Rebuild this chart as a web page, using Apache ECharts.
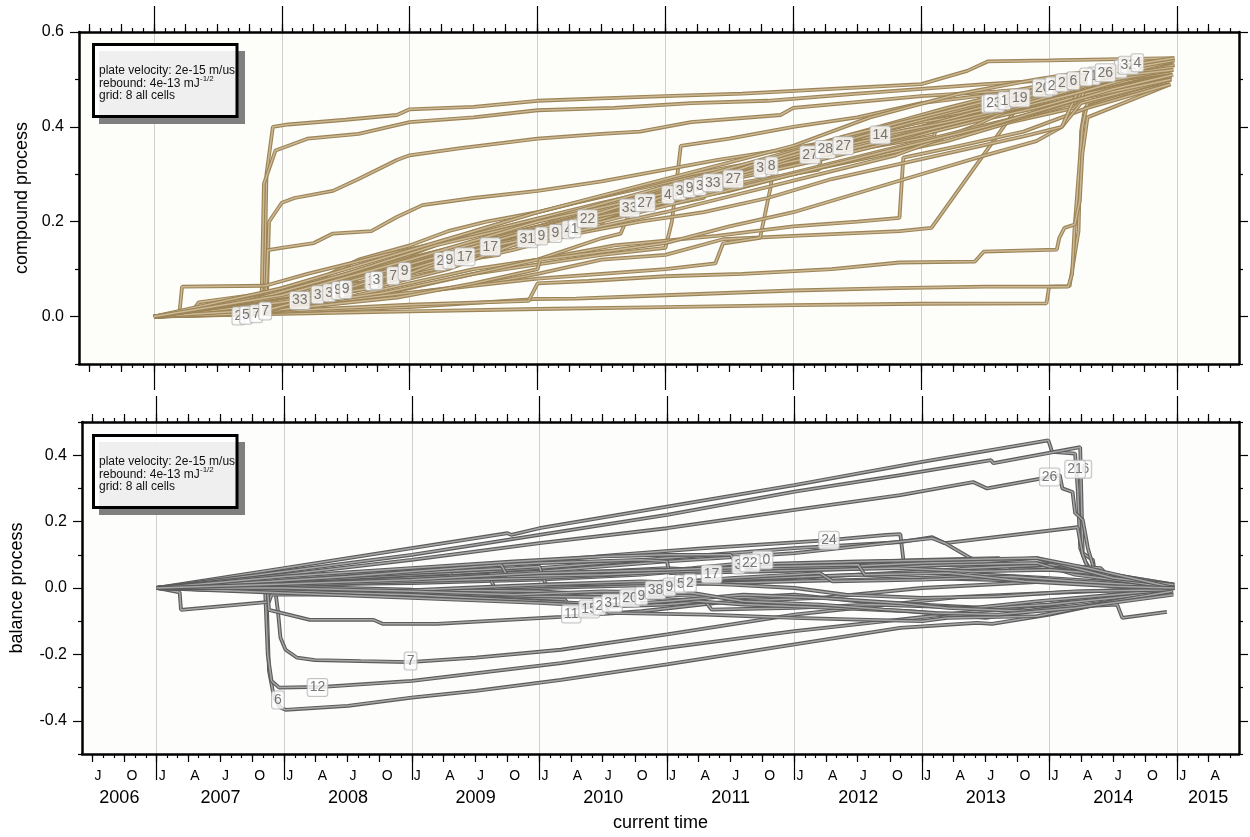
<!DOCTYPE html>
<html>
<head>
<meta charset="utf-8">
<script src="https://cdn.jsdelivr.net/npm/echarts@6/dist/echarts.min.js"></script>
<style>
  html, body { margin: 0; padding: 0; background: #fff; }
  #chart { width: 1250px; height: 837px; }
</style>
</head>
<body>
<div id="chart"></div>
<script>
// axis range in decimal years
const X_MIN = 2006.414
const X_MAX = 2015.485
const YEARS = [2006, 2007, 2008, 2009, 2010, 2011, 2012, 2013, 2014, 2015]
const MONTH_DAYS = [0, 31, 59, 90, 120, 151, 181, 212, 243, 273, 304, 334]
const QUARTER_LETTERS = { 0: "J", 90: "A", 181: "J", 273: "O" }
const YEAR_LABEL_POS = [2006.707, 2007.5, 2008.5, 2009.5, 2010.5, 2011.5, 2012.5, 2013.5, 2014.5, 2015.243]

const CP_MAJOR = [0, 0.2, 0.4, 0.6]
const CP_MINOR = [-0.1, 0.1, 0.3, 0.5]
const BP_MAJOR = [-0.4, -0.2, 0, 0.2, 0.4]
const BP_MINOR = [-0.5, -0.3, -0.1, 0.1, 0.3, 0.5]

// ---- compound process (top panel) ----
const cpA1 = [[2007,0],[2007.5,0.004],[2007.86,0.008],[2007.88,0.3],[2007.93,0.4],[2008.05,0.405],[2008.5,0.415],[2008.9,0.425],[2009,0.437],[2009.5,0.442],[2010,0.455],[2010.5,0.46],[2011,0.465],[2011.6,0.47],[2012.3,0.48],[2013,0.49],[2013.36,0.518],[2013.52,0.538],[2014,0.54],[2014.98,0.545]]
const cpA2 = [[2007,0],[2007.6,0.006],[2007.84,0.01],[2007.86,0.28],[2007.95,0.35],[2008.1,0.365],[2008.2,0.375],[2008.6,0.385],[2009,0.41],[2009.5,0.42],[2010,0.435],[2010.6,0.44],[2011.2,0.45],[2011.8,0.455],[2012.5,0.47],[2013,0.48],[2013.5,0.49],[2014.1,0.5],[2014.5,0.52],[2014.96,0.535]]
const cpA3 = [[2007,0],[2007.88,0.01],[2007.9,0.2],[2008,0.24],[2008.1,0.25],[2008.4,0.265],[2008.6,0.29],[2008.9,0.33],[2009,0.34],[2009.4,0.355],[2010,0.375],[2010.5,0.385],[2010.8,0.39],[2011.2,0.41],[2011.9,0.425],[2012,0.44],[2012.6,0.455],[2013,0.465],[2013.6,0.475],[2014.3,0.49],[2014.95,0.52]]
const cpA4 = [[2007,0],[2007.87,0.006],[2007.89,0.14],[2008,0.145],[2008.25,0.155],[2008.4,0.175],[2008.7,0.18],[2008.9,0.21],[2009.1,0.235],[2009.5,0.25],[2010,0.265],[2010.5,0.285],[2011,0.31],[2011.4,0.33],[2012,0.355],[2012.5,0.38],[2013,0.41],[2013.5,0.43],[2014,0.46],[2014.5,0.49],[2014.95,0.515]]
const cp33 = [[2007,0],[2007.4,0.01],[2007.9,0.02],[2008.14,0.034],[2008.6,0.055],[2008.62,0.07],[2009,0.09],[2009.5,0.13],[2010,0.175],[2010.3,0.19],[2010.72,0.229],[2011.37,0.282],[2011.6,0.295],[2012,0.325],[2012.5,0.36],[2013,0.39],[2013.5,0.42],[2014,0.46],[2014.5,0.49],[2014.97,0.52]]
const cp27 = [[2007,0],[2007.6,0.008],[2008,0.03],[2008.5,0.06],[2009,0.1],[2009.4,0.13],[2009.9,0.17],[2010.4,0.2],[2010.84,0.24],[2011.2,0.265],[2011.53,0.29],[2011.8,0.31],[2011.82,0.325],[2012.13,0.341],[2012.39,0.36],[2012.8,0.38],[2013.3,0.41],[2013.8,0.45],[2014.2,0.47],[2014.25,0.5],[2014.98,0.53]]
const cp9 = [[2007,0],[2007.5,0.01],[2008,0.035],[2008.5,0.057],[2008.96,0.095],[2009.31,0.12],[2009.7,0.15],[2010.03,0.17],[2010.14,0.175],[2010.6,0.215],[2011.19,0.27],[2011.7,0.3],[2012.2,0.33],[2012.8,0.37],[2013.4,0.41],[2013.9,0.44],[2014.3,0.47],[2014.95,0.51]]
const cp3 = [[2007,0],[2007.7,0.02],[2008.28,0.046],[2008.74,0.076],[2009.2,0.1],[2009.6,0.14],[2010.2,0.19],[2010.7,0.23],[2011.11,0.265],[2011.27,0.274],[2011.74,0.312],[2012.3,0.345],[2012.9,0.38],[2013.5,0.43],[2014.1,0.47],[2014.5,0.5],[2014.96,0.525]]
const cp17 = [[2007,0],[2007.3,0.01],[2007.35,0.03],[2007.9,0.05],[2008.5,0.08],[2009,0.105],[2009.43,0.126],[2009.63,0.147],[2010,0.165],[2010.1,0.2],[2010.6,0.22],[2011,0.24],[2011.5,0.265],[2012,0.3],[2012.6,0.34],[2013.2,0.38],[2013.8,0.42],[2014.2,0.45],[2014.3,0.49],[2014.95,0.515]]
const cp7 = [[2007,0],[2007.8,0.006],[2008.3,0.04],[2008.87,0.086],[2009.3,0.11],[2009.8,0.14],[2010.3,0.175],[2010.8,0.2],[2011.3,0.22],[2011.8,0.25],[2012.3,0.29],[2012.8,0.32],[2013.3,0.35],[2013.8,0.38],[2014.1,0.4],[2014.2,0.46],[2014.29,0.505],[2014.96,0.53]]
const cp4 = [[2007,0],[2007.5,0.015],[2008,0.04],[2008.6,0.07],[2009.1,0.11],[2009.6,0.15],[2010.24,0.183],[2010.6,0.215],[2011.02,0.257],[2011.5,0.29],[2012.1,0.335],[2012.7,0.375],[2013.2,0.41],[2013.8,0.45],[2014.3,0.5],[2014.69,0.535],[2014.98,0.54]]
const cp2 = [[2007,0],[2007.6,0.005],[2008.2,0.03],[2008.8,0.07],[2009.24,0.116],[2009.8,0.15],[2010.4,0.185],[2011,0.22],[2011.6,0.26],[2012.2,0.3],[2012.8,0.34],[2013.4,0.4],[2013.8,0.45],[2014.02,0.486],[2014.1,0.493],[2014.5,0.51],[2014.97,0.525]]
const cp22 = [[2007,0],[2007.3,0.008],[2008,0.03],[2008.7,0.06],[2009.3,0.1],[2009.8,0.15],[2010.39,0.206],[2010.9,0.235],[2011.5,0.27],[2012.1,0.31],[2012.7,0.35],[2013.3,0.39],[2013.9,0.43],[2014.25,0.46],[2014.3,0.49],[2014.96,0.515]]
const cp31 = [[2007,0],[2007.9,0.015],[2008.4,0.05],[2009,0.1],[2009.5,0.14],[2009.92,0.164],[2010.5,0.2],[2011.1,0.24],[2011.7,0.28],[2012.3,0.32],[2012.9,0.36],[2013.5,0.4],[2014,0.44],[2014.5,0.48],[2014.97,0.51]]
const cp8 = [[2007,0],[2007.8,0.03],[2008.3,0.07],[2008.8,0.11],[2009.4,0.15],[2010,0.19],[2010.6,0.24],[2011.2,0.28],[2011.83,0.318],[2012.4,0.35],[2013,0.39],[2013.6,0.43],[2014.2,0.47],[2014.98,0.53]]
const cp28 = [[2007,0],[2007.2,0.01],[2007.22,0.063],[2007.87,0.065],[2008.2,0.09],[2008.8,0.13],[2009.3,0.16],[2009.9,0.2],[2010.5,0.24],[2011,0.27],[2011.6,0.31],[2012.25,0.352],[2012.8,0.385],[2013.4,0.43],[2013.9,0.46],[2014.4,0.5],[2014.98,0.54]]
const cp14 = [[2007,0],[2008,0.05],[2008.5,0.09],[2009,0.13],[2009.5,0.18],[2010,0.22],[2010.6,0.26],[2011.2,0.3],[2011.8,0.33],[2012.2,0.36],[2012.68,0.383],[2013.2,0.41],[2013.7,0.44],[2014.2,0.48],[2014.97,0.53]]
const cp23 = [[2007,0],[2007.5,0.02],[2008.3,0.06],[2009,0.12],[2009.6,0.16],[2010.3,0.21],[2011,0.26],[2011.7,0.31],[2012.3,0.36],[2012.9,0.41],[2013.57,0.45],[2014.1,0.48],[2014.97,0.52]]
const cp19 = [[2007,0],[2008,0.04],[2008.7,0.09],[2009.4,0.14],[2010,0.185],[2010.7,0.24],[2011.4,0.3],[2012,0.34],[2012.7,0.4],[2013.3,0.43],[2013.77,0.461],[2014.3,0.49],[2014.96,0.52]]
const cp20 = [[2007,0],[2008.2,0.05],[2009,0.11],[2009.8,0.17],[2010.5,0.22],[2011.2,0.28],[2012,0.34],[2012.8,0.4],[2013.5,0.45],[2013.95,0.482],[2014.4,0.505],[2014.97,0.525]]
const cp26 = [[2007,0],[2007.7,0.03],[2008.5,0.09],[2009.2,0.15],[2010,0.2],[2010.8,0.26],[2011.6,0.32],[2012.4,0.38],[2013.2,0.44],[2013.8,0.48],[2014.44,0.514],[2014.97,0.54]]
const cp32 = [[2007,0],[2008,0.06],[2009,0.14],[2010,0.22],[2011,0.29],[2012,0.36],[2012.6,0.42],[2013.3,0.47],[2013.9,0.5],[2014.62,0.53],[2014.98,0.545]]
const cp6 = [[2007,0],[2008,0.045],[2009,0.12],[2010,0.2],[2011,0.26],[2011.8,0.33],[2012.4,0.38],[2013,0.42],[2013.6,0.46],[2014.19,0.497],[2014.97,0.52]]
const cpX1 = [[2007,0],[2007.9,0.03],[2008,0.06],[2008.3,0.08],[2008.6,0.12],[2009,0.15],[2009.3,0.18],[2009.6,0.2],[2010,0.22],[2010.3,0.24],[2010.8,0.27],[2011.3,0.3],[2011.9,0.33],[2012.5,0.37],[2013,0.4],[2013.6,0.44],[2014.1,0.47],[2014.95,0.52]]
const cpX2 = [[2007,0],[2008,0.015],[2008.9,0.04],[2009.5,0.07],[2010,0.1],[2010.02,0.12],[2010.6,0.14],[2011,0.155],[2011.5,0.19],[2012,0.22],[2012.5,0.26],[2013,0.3],[2013.5,0.34],[2013.9,0.37],[2014.1,0.4],[2014.25,0.45],[2014.95,0.5]]
const cpX3 = [[2007,0],[2007.6,0.01],[2008.2,0.04],[2008.21,0.06],[2008.9,0.08],[2008.92,0.1],[2009.7,0.13],[2009.72,0.16],[2010.5,0.19],[2010.52,0.21],[2011.3,0.25],[2011.32,0.27],[2012.2,0.31],[2012.22,0.34],[2013.1,0.38],[2013.12,0.4],[2013.9,0.44],[2014.95,0.5]]
const cpS1 = [[2007,0],[2007.9,0.01],[2008.5,0.03],[2009,0.06],[2009.5,0.09],[2010,0.11],[2010.5,0.13],[2011,0.145],[2011.05,0.2],[2011.12,0.36],[2011.5,0.375],[2012,0.4],[2012.5,0.42],[2013,0.45],[2013.6,0.47],[2014.2,0.49],[2014.95,0.505]]
const cpS2 = [[2007,0],[2008,0.02],[2009,0.05],[2010,0.08],[2010.5,0.09],[2011,0.1],[2011.39,0.112],[2011.45,0.154],[2011.74,0.166],[2011.82,0.27],[2011.85,0.32],[2012.3,0.35],[2013,0.39],[2013.5,0.42],[2014.2,0.46],[2014.96,0.5]]
const cpS3 = [[2007,0],[2008.5,0.04],[2009.5,0.1],[2010,0.12],[2010.6,0.15],[2011.4,0.17],[2012,0.19],[2012.5,0.2],[2012.83,0.208],[2012.86,0.335],[2013.3,0.36],[2013.8,0.39],[2014.3,0.44],[2014.95,0.49]]
const cpS4 = [[2007,0],[2008,0.02],[2008.8,0.05],[2009.5,0.09],[2010,0.12],[2010.5,0.165],[2010.65,0.175],[2010.72,0.22],[2011.2,0.25],[2011.8,0.29],[2012.5,0.33],[2013.2,0.37],[2013.7,0.41],[2014.2,0.44],[2014.3,0.47],[2014.95,0.5]]
const cpJ1 = [[2007,0],[2008,0.006],[2009,0.011],[2010,0.016],[2011,0.02],[2012,0.024],[2013,0.027],[2013.98,0.028],[2014,0.063],[2014.16,0.064],[2014.2,0.13],[2014.23,0.18],[2014.25,0.39],[2014.28,0.44],[2014.6,0.47],[2014.94,0.49]]
const cpJ2 = [[2007,0],[2008,0.01],[2009,0.02],[2009.97,0.037],[2010.3,0.038],[2011,0.045],[2012,0.055],[2012.8,0.06],[2013.5,0.063],[2014.15,0.063],[2014.18,0.09],[2014.2,0.19],[2014.22,0.26],[2014.26,0.4],[2014.3,0.45],[2014.95,0.5]]
const cpJ3 = [[2007,0],[2008,0.012],[2009,0.025],[2009.93,0.033],[2010,0.07],[2010.4,0.075],[2011,0.085],[2011.6,0.09],[2012.3,0.1],[2012.83,0.114],[2013.42,0.116],[2013.49,0.137],[2014.06,0.141],[2014.08,0.166],[2014.12,0.187],[2014.2,0.194],[2014.24,0.244],[2014.26,0.343],[2014.3,0.42],[2014.95,0.49]]
const cpJ4 = [[2007,0],[2008,0.02],[2009,0.05],[2009.6,0.07],[2010,0.09],[2010.5,0.12],[2011,0.13],[2011.45,0.163],[2012,0.17],[2012.83,0.18],[2013.08,0.187],[2013.75,0.44],[2014,0.46],[2014.5,0.49],[2014.96,0.505]]

const cpTags = [
  [2007.66,0.001,"2"],[2007.72,0.003,"5"],[2007.8,0.006,"7"],[2007.87,0.012,"7"],
  [2008.14,0.034,"33"],[2008.28,0.046,"3"],[2008.37,0.05,"3"],[2008.44,0.055,"9"],[2008.5,0.057,"9"],
  [2008.7,0.074,"1"],[2008.74,0.076,"3"],[2008.87,0.086,"7"],[2008.96,0.095,"9"],
  [2009.24,0.116,"2"],[2009.31,0.12,"9"],[2009.43,0.126,"17"],[2009.63,0.147,"17"],
  [2009.92,0.164,"31"],[2010.03,0.17,"9"],[2010.14,0.175,"9"],[2010.24,0.183,"4"],[2010.29,0.185,"1"],
  [2010.39,0.206,"22"],[2010.72,0.229,"33"],[2010.84,0.24,"27"],
  [2011.02,0.257,"4"],[2011.11,0.265,"3"],[2011.19,0.27,"9"],[2011.27,0.274,"3"],[2011.37,0.282,"33"],
  [2011.53,0.29,"27"],[2011.74,0.312,"3"],[2011.83,0.318,"8"],
  [2012.13,0.341,"27"],[2012.25,0.352,"28"],[2012.39,0.36,"27"],[2012.68,0.383,"14"],
  [2013.52,0.448,"1"],[2013.57,0.45,"23"],[2013.65,0.455,"1"],[2013.77,0.461,"19"],
  [2013.95,0.482,"20"],[2014.02,0.486,"2"],[2014.1,0.493,"2"],[2014.19,0.497,"6"],
  [2014.35,0.507,"1"],[2014.29,0.505,"7"],[2014.56,0.522,"1"],[2014.44,0.514,"26"],[2014.62,0.53,"32"],[2014.69,0.535,"4"]
]

// ---- balance process (bottom panel) ----
const bpG1 = [[2007,0],[2008,0.06],[2009,0.12],[2009.75,0.165],[2009.78,0.16],[2010,0.18],[2011,0.245],[2012,0.31],[2013,0.38],[2013.99,0.445],[2014.02,0.41],[2014.2,0.405],[2014.22,0.3],[2014.24,0.12],[2014.28,0.08],[2014.33,0.05],[2014.6,0.03],[2014.98,0.005]]
const bpG2 = [[2007,0],[2008,0.05],[2009,0.1],[2010,0.16],[2011,0.22],[2012,0.29],[2012.83,0.34],[2013.54,0.385],[2013.56,0.376],[2014.24,0.424],[2014.26,0.105],[2014.34,0.084],[2014.36,0.033],[2014.98,0]]
const bpG3 = [[2007,0],[2008,0.04],[2009,0.085],[2010,0.135],[2011,0.18],[2012,0.235],[2012.83,0.28],[2013.4,0.319],[2013.51,0.3],[2014.08,0.34],[2014.1,0.3],[2014.18,0.289],[2014.2,0.226],[2014.26,0.205],[2014.3,0.12],[2014.35,0.054],[2014.5,0.024],[2014.98,0]]
const bpG4 = [[2007,0],[2008,0.02],[2009,0.04],[2009.3,0.045],[2009.32,0.06],[2010,0.08],[2010.6,0.1],[2011.3,0.12],[2012.27,0.144],[2012.72,0.16],[2012.83,0.162],[2012.86,0.065],[2013.3,0.07],[2014,0.075],[2014.3,0.04],[2014.97,0.005]]
const bpG5 = [[2007,0],[2008,0.015],[2009,0.035],[2010,0.06],[2011,0.09],[2012,0.12],[2012.83,0.138],[2013.08,0.153],[2013.18,0.135],[2014.22,0.183],[2014.26,0.1],[2014.3,0.06],[2014.5,0.03],[2014.98,0]]
const bpG6 = [[2007,0],[2009,0.03],[2010,0.05],[2011,0.08],[2012,0.105],[2013.08,0.15],[2013.18,0.135],[2013.38,0.09],[2013.5,0.075],[2014,0.07],[2014.98,0.01]]
const bp6 = [[2007,0],[2007.5,-0.005],[2007.86,-0.01],[2007.88,-0.25],[2007.92,-0.33],[2007.97,-0.36],[2008.01,-0.367],[2008.5,-0.355],[2009,-0.33],[2009.5,-0.31],[2010.17,-0.277],[2011,-0.23],[2012,-0.17],[2012.83,-0.12],[2013.43,-0.105],[2013.55,-0.108],[2014,-0.08],[2014.5,-0.04],[2014.92,0.003]]
const bp12 = [[2007,0],[2007.85,-0.01],[2007.87,-0.2],[2007.9,-0.28],[2007.96,-0.3],[2008.3,-0.298],[2009,-0.28],[2010.17,-0.226],[2011,-0.18],[2012,-0.13],[2013.3,-0.075],[2014,-0.05],[2014.5,-0.02],[2014.95,0]]
const bp7 = [[2007,0],[2007.93,-0.01],[2007.95,-0.07],[2007.97,-0.15],[2008.01,-0.186],[2008.1,-0.21],[2008.24,-0.217],[2008.6,-0.22],[2008.98,-0.223],[2009.5,-0.21],[2010.17,-0.186],[2011,-0.14],[2012,-0.08],[2013.3,-0.027],[2014,-0.015],[2014.95,0]]
const bpK1 = [[2007,0],[2007.18,-0.013],[2007.19,-0.066],[2007.88,-0.042],[2007.9,-0.02],[2008.5,-0.02],[2009.2,-0.01],[2010,0],[2011,0.01],[2012,0.02],[2013,0.03],[2014,0.02],[2014.97,0]]
const bpK2 = [[2007,0],[2007.87,-0.01],[2007.88,-0.066],[2008.2,-0.096],[2008.7,-0.096],[2008.77,-0.108],[2009.2,-0.108],[2010.17,-0.087],[2010.8,-0.07],[2011.5,-0.04],[2012.2,-0.03],[2013,0],[2014,0.02],[2014.95,0.005]]
const bpM1 = [[2007,0],[2008,0.02],[2009,0.04],[2009.3,0.045],[2009.32,0.03],[2010,0.04],[2011,0.06],[2011.2,0.055],[2012,0.07],[2013,0.085],[2013.6,0.09],[2013.7,0.06],[2014.3,0.05],[2014.5,0.03],[2014.97,0.005]]
const bpM2 = [[2007,0],[2008,0.01],[2009,0.015],[2010,0.025],[2010.8,0.04],[2011.1,0.05],[2011.15,0.02],[2012,0.03],[2013,0.05],[2013.4,0.06],[2014,0.07],[2014.4,0.06],[2014.5,0.02],[2014.98,0]]
const bpM3 = [[2007,0],[2008,0.005],[2009,-0.005],[2010,-0.01],[2010.5,-0.02],[2011,-0.02],[2011.5,-0.03],[2012,-0.02],[2012.5,-0.04],[2013,-0.05],[2013.5,-0.06],[2014,-0.05],[2014.5,-0.03],[2014.96,-0.01]]
const bpM4 = [[2007,0],[2008,0.015],[2008.5,0.02],[2009,0.03],[2009.6,0.04],[2009.65,0],[2010,0.005],[2010.5,0.01],[2011,0.02],[2011.8,0.03],[2012.5,0.04],[2013,0.03],[2013.5,0.04],[2014,0.03],[2014.6,0.015],[2014.97,0]]
const bpM5 = [[2007,0],[2008.5,-0.01],[2009.5,-0.02],[2010.2,-0.035],[2010.25,-0.06],[2011,-0.05],[2011.3,-0.04],[2011.35,-0.065],[2012,-0.06],[2012.6,-0.05],[2013.4,-0.06],[2013.9,-0.04],[2014.5,-0.02],[2014.95,-0.005]]
const bpM6 = [[2007,0],[2008,0.025],[2009,0.045],[2009.8,0.06],[2010,0.065],[2010.05,0.01],[2011,0.015],[2011.5,0.03],[2012.2,0.045],[2012.3,0.02],[2013,0.025],[2013.7,0.035],[2014.2,0.02],[2014.97,0.003]]
const bpM7 = [[2007,0],[2008,0.03],[2009,0.055],[2010,0.075],[2010.8,0.085],[2011,0.08],[2011.02,0.045],[2011.8,0.05],[2012.6,0.06],[2013.2,0.07],[2013.9,0.075],[2014.2,0.04],[2014.6,0.02],[2014.98,0]]
const bpM8 = [[2007,0],[2008,-0.005],[2009,-0.015],[2010,-0.025],[2010.9,-0.03],[2011.6,-0.05],[2012.3,-0.06],[2012.9,-0.07],[2013.5,-0.09],[2014,-0.06],[2014.53,-0.05],[2014.57,-0.09],[2014.92,-0.072]]
const bpM9 = [[2007,0],[2008,0.008],[2009,0.02],[2010,0.03],[2010.6,0.04],[2011.2,0.06],[2011.6,0.075],[2011.65,0.05],[2012.2,0.055],[2012.8,0.06],[2013.4,0.05],[2014,0.055],[2014.5,0.04],[2014.97,0.01]]
const bpM10 = [[2007,0],[2008,-0.008],[2008.8,-0.01],[2009.4,0],[2010,0.01],[2010.8,0.02],[2011.5,0.01],[2012,0],[2012.4,-0.02],[2013,-0.03],[2013.6,-0.025],[2014.2,-0.01],[2014.97,-0.005]]
const bpM11 = [[2007,0],[2007.9,0.02],[2008.5,0.035],[2009,0.05],[2009.7,0.07],[2009.75,0.035],[2010.5,0.04],[2011.1,0.05],[2011.9,0.06],[2012.4,0.065],[2013,0.075],[2013.5,0.08],[2013.9,0.09],[2014.1,0.07],[2014.5,0.03],[2014.97,0.01]]
const bpM12 = [[2007,0],[2008,-0.01],[2009,-0.02],[2009.5,-0.03],[2010,-0.04],[2010.6,-0.05],[2011,-0.04],[2011.6,-0.02],[2012.2,-0.03],[2012.8,-0.045],[2013.2,-0.06],[2013.8,-0.07],[2014.3,-0.05],[2014.97,-0.015]]
const bpM13 = [[2007,0],[2008,-0.015],[2009,-0.03],[2010,-0.045],[2010.5,-0.055],[2010.55,-0.075],[2011.3,-0.08],[2012,-0.09],[2012.5,-0.095],[2013,-0.1],[2013.2,-0.09],[2013.9,-0.085],[2014.5,-0.04],[2014.96,-0.01]]
const bpM14 = [[2007,0],[2008,0.035],[2009,0.06],[2009.8,0.08],[2010.5,0.095],[2011,0.1],[2011.5,0.1],[2011.55,0.07],[2012.5,0.08],[2013.2,0.085],[2013.9,0.09],[2014.3,0.06],[2014.98,0]]
const bpM15 = [[2007,0],[2008,0],[2009,-0.01],[2009.8,-0.02],[2010.5,-0.01],[2011.2,-0.015],[2011.6,-0.04],[2012.2,-0.05],[2012.7,-0.065],[2013.1,-0.075],[2013.6,-0.08],[2014.2,-0.06],[2014.97,-0.02]]
const bpM16 = [[2007,0],[2008,0.012],[2009,0.025],[2010,0.045],[2011,0.055],[2011.8,0.065],[2012.5,0.07],[2012.55,0.04],[2013.2,0.045],[2013.8,0.02],[2014.5,0.005],[2014.97,0]]

const bpTags = [
  [2007.95,-0.337,"6"],[2008.26,-0.3,"12"],[2008.99,-0.22,"7"],
  [2010.25,-0.078,"11"],[2010.39,-0.063,"15"],[2010.47,-0.054,"2"],[2010.57,-0.045,"31"],
  [2010.71,-0.03,"20"],[2010.8,-0.024,"9"],[2010.91,-0.006,"38"],[2011.02,0.003,"9"],
  [2011.11,0.012,"5"],[2011.18,0.015,"2"],[2011.35,0.042,"17"],
  [2011.56,0.069,"3"],[2011.75,0.084,"10"],[2011.65,0.075,"22"],[2012.27,0.144,"24"],
  [2014.0,0.334,"26"],[2014.28,0.358,"6"],[2014.2,0.358,"21"]
]

const FONT = "'Liberation Sans', Arial, Helvetica, sans-serif"

// tick positions (axis structure only)
const monthTicks = []
const quarterTicks = []
YEARS.forEach(y => {
  MONTH_DAYS.forEach((d, i) => {
    const v = y + d / 365
    if (v >= X_MIN && v <= X_MAX) {
      monthTicks.push(v)
      if (i % 3 === 0) quarterTicks.push(v)
    }
  })
})
const yearTicks = YEARS.filter(y => y >= X_MIN && y <= X_MAX)

function xAx(grid, pos, ticks, len, extra) {
  return Object.assign({
    type: "value", gridIndex: grid, position: pos, min: X_MIN, max: X_MAX,
    axisLine: { show: false, onZero: false },
    axisTick: { show: true, inside: false, customValues: ticks, length: len, lineStyle: { color: "#000", width: 1.2 } },
    axisLabel: { show: false },
    splitLine: { show: false }
  }, extra || {})
}

function yAx(grid, pos, min, max, ticks, len, extra) {
  return Object.assign({
    type: "value", gridIndex: grid, position: pos, min: min, max: max,
    axisLine: { show: false, onZero: false },
    axisTick: { show: true, inside: false, customValues: ticks, length: len, lineStyle: { color: "#000", width: 1.2 } },
    axisLabel: { show: false },
    splitLine: { show: false }
  }, extra || {})
}

const frame = { show: true, onZero: false, lineStyle: { color: "#000", width: 2.5 } }
const yearSplit = { show: true, lineStyle: { color: "#cfcfcf", width: 1 } }

const xAxes = [
  xAx(0, "bottom", yearTicks, 26, { axisLine: frame, splitLine: yearSplit }),
  xAx(0, "bottom", quarterTicks, 8),
  xAx(0, "bottom", monthTicks, 4),
  xAx(0, "top", yearTicks, 26, { axisLine: frame }),
  xAx(0, "top", quarterTicks, 8),
  xAx(0, "top", monthTicks, 4),
  xAx(1, "bottom", yearTicks, 26, { axisLine: frame, splitLine: yearSplit }),
  xAx(1, "bottom", quarterTicks, 8, {
    axisLabel: {
      show: true, customValues: quarterTicks, align: "left", margin: 15, padding: [0, 0, 0, 2],
      fontSize: 14, color: "#000", fontFamily: FONT,
      formatter: v => QUARTER_LETTERS[Math.round((v - Math.floor(v)) * 365)] || ""
    }
  }),
  xAx(1, "bottom", monthTicks, 4),
  xAx(1, "top", yearTicks, 26, { axisLine: frame }),
  xAx(1, "top", quarterTicks, 8),
  xAx(1, "top", monthTicks, 4),
  xAx(1, "bottom", [], 0, {
    axisTick: { show: false },
    axisLabel: {
      show: true, customValues: YEAR_LABEL_POS, margin: 35, fontSize: 18, color: "#000", fontFamily: FONT,
      formatter: v => String(Math.floor(v))
    },
    name: "current time", nameLocation: "middle", nameGap: 60,
    nameTextStyle: { fontSize: 18, color: "#000", fontFamily: FONT }
  })
]

const fmt1 = v => v.toFixed(1)
const yAxes = [
  yAx(0, "left", -0.1, 0.6, CP_MAJOR, 9, {
    axisLine: frame,
    axisLabel: { show: true, customValues: CP_MAJOR, formatter: fmt1, margin: 15, fontSize: 16, color: "#000", fontFamily: FONT },
    name: "compound process", nameLocation: "middle", nameGap: 45, nameRotate: 90,
    nameTextStyle: { fontSize: 18, color: "#000", fontFamily: FONT }
  }),
  yAx(0, "left", -0.1, 0.6, CP_MINOR, 4),
  yAx(0, "right", -0.1, 0.6, CP_MAJOR, 9, { axisLine: frame }),
  yAx(0, "right", -0.1, 0.6, CP_MINOR, 4),
  yAx(1, "left", -0.5, 0.5, BP_MAJOR, 9, {
    axisLine: frame,
    axisLabel: { show: true, customValues: BP_MAJOR, formatter: fmt1, margin: 15, fontSize: 16, color: "#000", fontFamily: FONT },
    name: "balance process", nameLocation: "middle", nameGap: 56, nameRotate: 90,
    nameTextStyle: { fontSize: 18, color: "#000", fontFamily: FONT }
  }),
  yAx(1, "left", -0.5, 0.5, BP_MINOR, 4),
  yAx(1, "right", -0.5, 0.5, BP_MAJOR, 9, { axisLine: frame }),
  yAx(1, "right", -0.5, 0.5, BP_MINOR, 4)
]

// each path drawn as a cased line: dark edge, light core
function cased(data, xi, yi, outer, inner) {
  const base = { type: "line", xAxisIndex: xi, yAxisIndex: yi, data: data, symbol: "none", silent: true, animation: false }
  return [
    Object.assign({}, base, { lineStyle: { color: outer, width: 3.8 } }),
    Object.assign({}, base, { lineStyle: { color: inner, width: 1.5 } })
  ]
}

function tagSeries(tags, xi, yi) {
  return {
    type: "scatter", xAxisIndex: xi, yAxisIndex: yi, data: tags, symbolSize: 1,
    itemStyle: { color: "transparent" }, z: 10, silent: true, animation: false,
    label: {
      show: true, position: "inside", formatter: p => p.data[2],
      color: "#555", fontSize: 14, fontFamily: FONT,
      backgroundColor: "#fff", borderColor: "#b4b4b4", borderWidth: 1, borderRadius: 2,
      padding: [2, 2, 1, 2]
    }
  }
}

const cpLines = [cpJ1, cpJ2, cpJ3, cpJ4, cpS1, cpS2, cpS3, cpS4, cpA1, cpA2, cpA3, cpA4, cpX1, cpX2, cpX3,
  cp33, cp27, cp9, cp3, cp17, cp7, cp4, cp2, cp22, cp31, cp8, cp28, cp14, cp23, cp19, cp20, cp26, cp32, cp6]
const bpLines = [bpG1, bpG2, bpG3, bpG4, bpG5, bpG6, bp6, bp12, bp7, bpK1, bpK2,
  bpM1, bpM2, bpM3, bpM4, bpM5, bpM6, bpM7, bpM8, bpM9, bpM10, bpM11, bpM12, bpM13, bpM14, bpM15, bpM16]

const series = []
cpLines.forEach(d => series.push(...cased(d, 0, 0, "#9c8457", "#cbb894")))
bpLines.forEach(d => series.push(...cased(d, 6, 4, "#5c5c5c", "#a6a6a6")))
series.push(tagSeries(cpTags, 0, 0))
series.push(tagSeries(bpTags, 6, 4))

function legendBox(dy) {
  const txt = { fontSize: 12, fontFamily: FONT, fill: "#111" }
  return [
    { type: "rect", shape: { x: 99, y: 51 + dy, width: 146, height: 73 }, style: { fill: "#7f7f7f" }, z: 100 },
    { type: "rect", shape: { x: 93.5, y: 44.5 + dy, width: 143.5, height: 72 }, style: { fill: "rgba(255,255,255,0.88)", stroke: "#000", lineWidth: 3 }, z: 101 },
    { type: "text", x: 99, y: 71 + dy, style: Object.assign({ text: "plate velocity: 2e-15 m/us", verticalAlign: "middle" }, txt), z: 102 },
    { type: "text", x: 99, y: 83.5 + dy, style: Object.assign({ text: "rebound: 4e-13 mJ", verticalAlign: "middle" }, txt), z: 102 },
    { type: "text", x: 200, y: 79 + dy, style: { text: "-1/2", verticalAlign: "middle", fontSize: 8, fontFamily: FONT, fill: "#111" }, z: 102 },
    { type: "text", x: 99, y: 96 + dy, style: Object.assign({ text: "grid: 8 all cells", verticalAlign: "middle" }, txt), z: 102 }
  ]
}

const chart = echarts.init(document.getElementById("chart"), null, { renderer: "canvas" })
chart.setOption({
  animation: false,
  backgroundColor: "#fff",
  textStyle: { fontFamily: FONT },
  grid: [
    { left: 79, right: 11, top: 32, height: 332, show: true, backgroundColor: "#fdfdfa", borderWidth: 0 },
    { left: 79, right: 11, top: 422, height: 332, show: true, backgroundColor: "#fdfdfc", borderWidth: 0 }
  ],
  xAxis: xAxes,
  yAxis: yAxes,
  series: series,
  graphic: [...legendBox(0), ...legendBox(391)]
})
</script>
</body>
</html>
